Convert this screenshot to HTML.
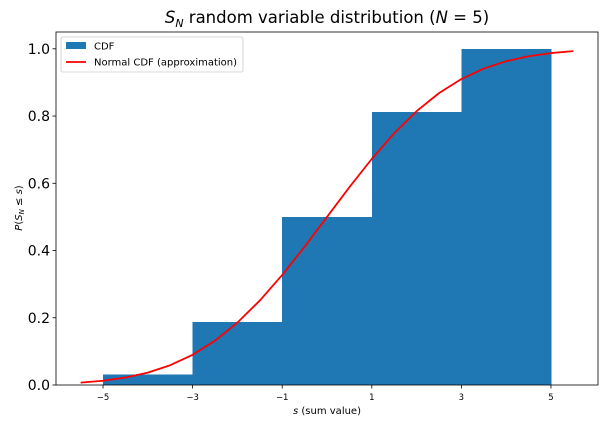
<!DOCTYPE html>
<html><head><meta charset="utf-8"><style>
body{margin:0;background:#fff;font-family:"Liberation Sans","DejaVu Sans",sans-serif}
svg text{font-family:"DejaVu Sans","Liberation Sans",sans-serif}
</style></head><body>
<svg id="c" width="611" height="428" xmlns="http://www.w3.org/2000/svg"></svg>
<script>
const binEdges=[-5,-3,-1,1,3,5];
const cdfValues=[0.03125,0.1875,0.5,0.8125,1.0];
const normX=[-5.5,-5,-4.5,-4,-3.5,-3,-2.5,-2,-1.5,-1,-0.5,0,0.5,1,1.5,2,2.5,3,3.5,4,4.5,5,5.5];
const normY=[0.007,0.0127,0.0221,0.0368,0.0588,0.0899,0.1318,0.1856,0.2512,0.3274,0.4115,0.5,0.5885,0.6726,0.7488,0.8144,0.8682,0.9101,0.9412,0.9632,0.9779,0.9873,0.993];
const xTicks=[-5,-3,-1,1,3,5];
const yTicks=[0,0.2,0.4,0.6,0.8,1.0];
const L=56,R=598,T=32,B=385,xmin=-6.05,xmax=6.05,ymin=0,ymax=1.05;
const sx=v=>L+(v-xmin)/(xmax-xmin)*(R-L);
const sy=v=>B-(v-ymin)/(ymax-ymin)*(B-T);
const svg=document.getElementById('c');
function mk(t,a,txt){const e=document.createElementNS('http://www.w3.org/2000/svg',t);for(const k in a)e.setAttribute(k,a[k]);if(txt!==undefined)e.textContent=txt;svg.appendChild(e);return e;}
for(let i=0;i<cdfValues.length;i++){
 const r=mk('rect',{x:sx(binEdges[i]),y:sy(cdfValues[i]),width:sx(binEdges[i+1])-sx(binEdges[i])+0.5,height:B-sy(cdfValues[i]),fill:'#1f77b4','shape-rendering':'crispEdges'});
 
 
}
const pl=mk('polyline',{points:normX.map((x,i)=>sx(x)+','+sy(normY[i])).join(' '),fill:'none',stroke:'#ff0000','stroke-width':1.8,'stroke-linejoin':'round'});


const fr=mk('rect',{x:L,y:T,width:R-L,height:B-T,fill:'none',stroke:'#000','stroke-width':0.8});


xTicks.forEach(v=>{
 mk('line',{x1:sx(v),x2:sx(v),y1:B,y2:B+3.5,stroke:'#000','stroke-width':0.8});
 const t=mk('text',{x:sx(v),y:B+15,'text-anchor':'middle','font-size':8.5},String(v).replace('-','\u2212'));
 
 
});
yTicks.forEach(v=>{
 mk('line',{x1:L-3.5,x2:L,y1:sy(v),y2:sy(v),stroke:'#000','stroke-width':0.8});
 const t=mk('text',{x:L-6,y:sy(v)+5,'text-anchor':'end','font-size':14},v.toFixed(1));
 
 
});
</script>
<svg width="611" height="428" style="position:absolute;left:0;top:0" xmlns="http://www.w3.org/2000/svg">
<text x="327" y="23" text-anchor="middle" font-size="16.5" font-family="DejaVu Sans,sans-serif"><tspan font-style="italic">S</tspan><tspan font-style="italic" font-size="11" dy="4">N</tspan><tspan dy="-4"> random variable distribution (</tspan><tspan font-style="italic">N</tspan><tspan> = 5)</tspan></text>
<text x="327" y="414" text-anchor="middle" font-size="10" font-family="DejaVu Sans,sans-serif"><tspan font-style="italic">s</tspan> (sum value)</text>
<text transform="translate(22,208) rotate(-90)" text-anchor="middle" font-size="10" font-family="DejaVu Sans,sans-serif"><tspan font-style="italic">P</tspan>(<tspan font-style="italic">S</tspan><tspan font-style="italic" font-size="7" dy="2">N</tspan><tspan dy="-2"> ≤ </tspan><tspan font-style="italic">s</tspan>)</text>
<g>
<rect x="61" y="37" width="182" height="35" rx="2" fill="#fff" fill-opacity="0.8" stroke="#ccc" stroke-width="0.8"/>
<rect x="66" y="42" width="20" height="7" fill="#1f77b4"/>
<text x="94" y="49.5" font-size="10" font-family="DejaVu Sans,sans-serif">CDF</text>
<line x1="66" x2="86" y1="62" y2="62" stroke="#f00" stroke-width="1.8"/>
<text x="94" y="65.5" font-size="10" font-family="DejaVu Sans,sans-serif">Normal CDF (approximation)</text>
</g>
</svg>
</body></html>
